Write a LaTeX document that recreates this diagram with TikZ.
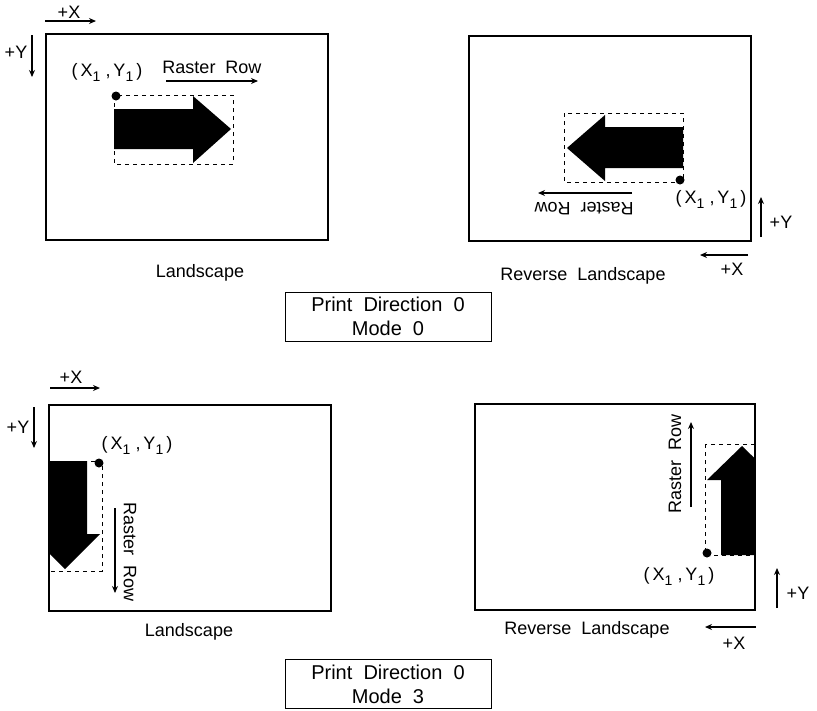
\documentclass[tikz,border=0pt]{standalone}
\usepackage{fontspec}
\setmainfont{Liberation Sans}
\usetikzlibrary{calc}
\usetikzlibrary{arrows.meta}

\newcommand{\subone}{\raisebox{-5pt}{\fontsize{14}{14}\selectfont 1}}
\newcommand{\ptlabel}{(\,X\subone\ ,\,Y\subone\,)}

\begin{document}
\begin{tikzpicture}[x=1pt,y=-1pt,
  every node/.style={inner sep=0pt,outer sep=0pt},
  lbl/.style={font=\fontsize{18}{20}\selectfont},
  axis/.style={line width=1.3pt,-{Stealth[length=7pt,width=6pt]}},
  page/.style={draw,line width=2pt},
  bbox/.style={draw,line width=0.8pt,dash pattern=on 4pt off 4pt},
  caption/.style={draw,line width=0.7pt,align=center,minimum width=206pt,
    minimum height=49pt,font=\fontsize{20}{24}\selectfont}]
\useasboundingbox (0,0) rectangle (817,710);

% ---------- PANEL 1 : mode 0, landscape ----------
\draw[page] (46,34) rectangle (328,240);
\coordinate (aXs) at (45,21); \coordinate (aXe) at (96,21);
\coordinate (aYs) at (32,35); \coordinate (aYe) at (32,77);
\draw[axis] (aXs) -- (aXe);
\draw[axis] (aYs) -- (aYe);
\node[lbl] (aX) at (69,12) {+X};
\node[lbl] (aY) at (16,52) {+Y};
\fill (114,109)--(193,109)--(193,96)--(231,129)--(193,163)--(193,149)--(114,149)--cycle; % arrow
\draw[bbox] (114,95) rectangle (233,164);
\fill (116,96) circle(4.5pt);
\node[lbl] (aPt) at (107,72) {\ptlabel};
\node[lbl] (aRow) at (212,67) {Raster\ \ Row};
\coordinate (aRs) at (166,81); \coordinate (aRe) at (258,81);
\draw[axis] (aRs) -- (aRe);
\node[lbl] (aName) at (200,273) {Landscape};

% ---------- PANEL 2 : mode 0, reverse landscape ----------
\draw[page] (469,36) rectangle (751,241);
\fill (683,127)--(605,127)--(605,115)--(567,148)--(605,181)--(605,168)--(683,168)--cycle; % arrow
\draw[bbox] (564,113) rectangle (683,182);
\fill (680,180) circle(4.5pt);
\node[lbl] (bPt) at (711,199) {\ptlabel};
\node[lbl,rotate=180] (bRow) at (584,209) {Raster\ \ Row};
\coordinate (bRs) at (632,193); \coordinate (bRe) at (538,193);
\draw[axis] (bRs) -- (bRe);
\coordinate (bYs) at (761,237); \coordinate (bYe) at (761,197);
\coordinate (bXs) at (748,255); \coordinate (bXe) at (700,255);
\draw[axis] (bYs) -- (bYe);
\draw[axis] (bXs) -- (bXe);
\node[lbl] (bY) at (781,222) {+Y};
\node[lbl] (bX) at (732,269) {+X};
\node[lbl] (bName) at (583,276) {Reverse\ \ Landscape};

\node[caption] (capA) at (388,316.5) {Print\ \ Direction\ \ 0\\Mode\ \ 0};

% ---------- PANEL 3 : mode 3, landscape ----------
\draw[page] (49,405) rectangle (331,611);
\coordinate (cXs) at (50,388); \coordinate (cXe) at (100,388);
\coordinate (cYs) at (34,407); \coordinate (cYe) at (34,448);
\draw[axis] (cXs) -- (cXe);
\draw[axis] (cYs) -- (cYe);
\node[lbl] (cX) at (71,377) {+X};
\node[lbl] (cY) at (18,427) {+Y};
\begin{scope}
  \clip (49,405) rectangle (331,611);
  \fill (43,461)--(87,461)--(87,534)--(100,534)--(65,569)--(30,534)--(43,534)--cycle; % arrow, cut by the page
\end{scope}
\draw[bbox] (49,461) rectangle (102,571);
\fill (99,463) circle(4.5pt);
\node[lbl] (cPt) at (137,445) {\ptlabel};
\node[lbl,rotate=-90] (cRow) at (130,552) {Raster\ \ Row};
\coordinate (cRs) at (115,508); \coordinate (cRe) at (115,593);
\draw[axis] (cRs) -- (cRe);
\node[lbl] (cName) at (189,632) {Landscape};

% ---------- PANEL 4 : mode 3, reverse landscape ----------
\draw[page] (475,404) rectangle (755,610);
\begin{scope}
  \clip (475,404) rectangle (755,610);
  \fill (721,555)--(721,480)--(707,480)--(742,446)--(777,480)--(763,480)--(763,555)--cycle; % arrow, cut by the page
\end{scope}
\draw[bbox] (705,444) rectangle (755,555);
\fill (707,553) circle(4.5pt);
\node[lbl] (dPt) at (679,576) {\ptlabel};
\node[lbl,rotate=90] (dRow) at (675,464) {Raster\ \ Row};
\coordinate (dRs) at (691,507); \coordinate (dRe) at (691,422);
\draw[axis] (dRs) -- (dRe);
\coordinate (dYs) at (777,608); \coordinate (dYe) at (777,568);
\coordinate (dXs) at (756,627); \coordinate (dXe) at (705,627);
\draw[axis] (dYs) -- (dYe);
\draw[axis] (dXs) -- (dXe);
\node[lbl] (dY) at (798,593) {+Y};
\node[lbl] (dX) at (734,643) {+X};
\node[lbl] (dName) at (587,630) {Reverse\ \ Landscape};

\node[caption] (capB) at (388,684) {Print\ \ Direction\ \ 0\\Mode\ \ 3};

\end{tikzpicture}
\end{document}
